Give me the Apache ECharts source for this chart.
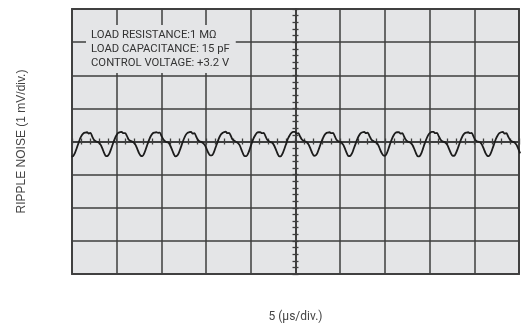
<!DOCTYPE html>
<html>
<head>
<meta charset="utf-8">
<script src="https://cdn.jsdelivr.net/npm/echarts@6/dist/echarts.min.js"></script>
<style>
  html, body { margin: 0; padding: 0; background: #ffffff; }
  #scope { width: 528px; height: 331px; }
</style>
</head>
<body>
<div id="scope"></div>
<script>
// Oscilloscope capture of output ripple noise.
// Vertical: 1 mV/div, horizontal: 5 µs/div, trigger point at screen centre (t = 0).
const timeRangeUs = [-25, 25];
const timePerDivUs = 5;
const voltRangeMv = [-4, 4];
const voltPerDivMv = 1;

// Sampled trace: first sample time and sample spacing of the capture
const sampleStartUs = -25.064;
const sampleIntervalUs = 0.1938;

// Ripple voltage per sample (mV), one row per ripple cycle
const rippleMv = [
  -0.45, -0.44, -0.35, -0.21, -0.06, 0.09, 0.19, 0.25, 0.27,
  0.28, 0.24, 0.26, 0.15, 0.05, 0.01, -0.01, -0.04, -0.11, -0.23, -0.36, -0.44, -0.43, -0.35, -0.21, -0.06, 0.08, 0.19, 0.26, 0.28,
  0.29, 0.25, 0.25, 0.17, 0.06, 0.02, 0.00, -0.03, -0.10, -0.22, -0.35, -0.43, -0.44, -0.36, -0.22, -0.07, 0.07, 0.18, 0.25, 0.27,
  0.28, 0.26, 0.27, 0.16, 0.07, 0.01, -0.02, -0.03, -0.12, -0.24, -0.37, -0.45, -0.43, -0.34, -0.20, -0.05, 0.09, 0.20, 0.26, 0.28,
  0.29, 0.24, 0.25, 0.15, 0.05, 0.00, -0.01, -0.05, -0.11, -0.22, -0.34, -0.42, -0.42, -0.35, -0.21, -0.07, 0.08, 0.19, 0.25, 0.28,
  0.30, 0.25, 0.26, 0.17, 0.06, 0.02, -0.01, -0.04, -0.10, -0.23, -0.36, -0.44, -0.44, -0.36, -0.22, -0.06, 0.08, 0.18, 0.26, 0.28,
  0.28, 0.25, 0.26, 0.16, 0.05, 0.01, -0.02, -0.04, -0.12, -0.24, -0.37, -0.45, -0.44, -0.35, -0.21, -0.06, 0.09, 0.19, 0.26, 0.29,
  0.29, 0.24, 0.25, 0.15, 0.06, 0.02, 0.00, -0.03, -0.10, -0.22, -0.35, -0.43, -0.42, -0.34, -0.20, -0.05, 0.08, 0.19, 0.25, 0.27,
  0.28, 0.25, 0.26, 0.16, 0.05, 0.01, -0.01, -0.04, -0.11, -0.23, -0.36, -0.44, -0.43, -0.35, -0.21, -0.07, 0.07, 0.18, 0.25, 0.28,
  0.29, 0.25, 0.27, 0.17, 0.07, 0.02, -0.01, -0.03, -0.10, -0.22, -0.34, -0.42, -0.43, -0.36, -0.22, -0.06, 0.08, 0.19, 0.26, 0.28,
  0.28, 0.24, 0.25, 0.15, 0.05, 0.00, -0.02, -0.05, -0.12, -0.24, -0.37, -0.45, -0.44, -0.35, -0.20, -0.05, 0.09, 0.20, 0.26, 0.29,
  0.29, 0.25, 0.26, 0.16, 0.06, 0.01, -0.01, -0.04, -0.11, -0.23, -0.35, -0.43, -0.43, -0.34, -0.21, -0.06, 0.08, 0.19, 0.25, 0.27,
  0.28, 0.25, 0.26, 0.16, 0.05, 0.01, -0.01, -0.03, -0.10, -0.22, -0.35, -0.43, -0.44, -0.36, -0.22, -0.07, 0.08, 0.18, 0.25, 0.28,
  0.29, 0.24, 0.25, 0.16, 0.06, 0.01, -0.01, -0.04, -0.11, -0.23, -0.36
];

// Test conditions shown on screen
const conditionLines = [
  'LOAD RESISTANCE:1 MΩ',
  'LOAD CAPACITANCE: 15 pF',
  'CONTROL VOLTAGE: +3.2 V'
];
const xAxisTitle = '5 (µs/div.)';
const yAxisTitle = 'RIPPLE NOISE (1 mV/div.)';

const trace = rippleMv.map((v, i) => [sampleStartUs + i * sampleIntervalUs, v]);

const gridColor = '#3e3e3e';
const screenColor = '#e4e5e7';

// Centre graticule axis: line with major and minor ticks on one side
function centreX(position) {
  return {
    type: 'value', min: timeRangeUs[0], max: timeRangeUs[1], interval: timePerDivUs,
    position: position,
    axisLine: { show: true, onZero: true, onZeroAxisIndex: 0, lineStyle: { color: gridColor, width: 1.5 } },
    axisTick: { show: true, length: 3, lineStyle: { color: gridColor, width: 1.3 } },
    minorTick: { show: true, splitNumber: 5, length: 3, lineStyle: { color: gridColor, width: 1.3 } },
    axisLabel: { show: false },
    splitLine: { show: position === 'bottom', lineStyle: { color: gridColor, width: 1.5 } }
  };
}
function centreY(position) {
  return {
    type: 'value', min: voltRangeMv[0], max: voltRangeMv[1], interval: voltPerDivMv,
    position: position,
    axisLine: { show: true, onZero: true, onZeroAxisIndex: 0, lineStyle: { color: gridColor, width: 1.5 } },
    axisTick: { show: true, length: 3, lineStyle: { color: gridColor, width: 1.3 } },
    minorTick: { show: true, splitNumber: 5, length: 3, lineStyle: { color: gridColor, width: 1.3 } },
    axisLabel: { show: false },
    splitLine: { show: position === 'left', lineStyle: { color: gridColor, width: 1.5 } }
  };
}

const chart = echarts.init(document.getElementById('scope'), null, { renderer: 'canvas' });
chart.setOption({
  animation: false,
  backgroundColor: '#ffffff',
  title: {
    text: conditionLines.join('\n'),
    left: 86, top: 25,
    backgroundColor: screenColor,
    padding: [3, 6, 3, 5],
    textStyle: { fontFamily: 'Roboto', fontSize: 11.3, fontWeight: 'normal', color: '#333333', lineHeight: 14 }
  },
  grid: {
    left: 72, right: 9, top: 9, bottom: 57,
    show: true, backgroundColor: screenColor,
    borderColor: '#4a4a4a', borderWidth: 2
  },
  xAxis: [
    centreX('bottom'),
    centreX('top'),
    {
      type: 'value', min: timeRangeUs[0], max: timeRangeUs[1], interval: timePerDivUs,
      position: 'bottom',
      axisLine: { show: false, onZero: false }, axisTick: { show: false },
      axisLabel: { show: false }, splitLine: { show: false },
      name: xAxisTitle, nameLocation: 'middle', nameGap: 37,
      nameTextStyle: { fontFamily: 'Roboto', fontSize: 12, color: '#444444' }
    }
  ],
  yAxis: [
    centreY('left'),
    centreY('right'),
    {
      type: 'value', min: voltRangeMv[0], max: voltRangeMv[1], interval: voltPerDivMv,
      position: 'left',
      axisLine: { show: false, onZero: false }, axisTick: { show: false },
      axisLabel: { show: false }, splitLine: { show: false },
      name: yAxisTitle, nameLocation: 'middle', nameGap: 44,
      nameTextStyle: { fontFamily: 'Liberation Sans', fontSize: 12, color: '#444444' }
    }
  ],
  series: [{
    type: 'line',
    xAxisIndex: 0, yAxisIndex: 0,
    data: trace,
    showSymbol: false,
    smooth: 0.3,
    clip: true,
    lineStyle: { color: '#1c1c1c', width: 1.8 }
  }]
});
</script>
</body>
</html>
